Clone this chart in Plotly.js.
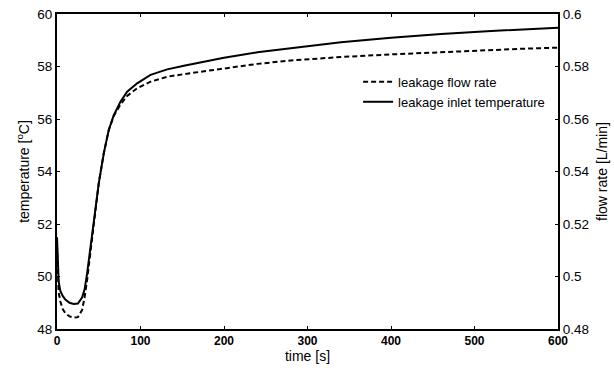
<!DOCTYPE html>
<html>
<head>
<meta charset="utf-8">
<script src="https://cdn.plot.ly/plotly-3.0.1.min.js"></script>
<style>html,body{margin:0;padding:0;background:#fff;}#chart{width:614px;height:371px;}</style>
</head>
<body>
<div id="chart"></div>
<script>
const timeS = [0, 1, 2, 4, 7, 10, 15, 20, 25, 30, 33, 36, 40, 44, 50, 56, 62, 68, 76, 84, 96, 112, 132, 152, 172, 200, 240, 280, 340, 400, 460, 520, 560, 600];
const inletTemp = [51.5, 50.4, 49.8, 49.45, 49.25, 49.12, 49.0, 48.95, 48.97, 49.2, 49.5, 50.1, 51.1, 52.15, 53.55, 54.69, 55.58, 56.15, 56.66, 57.04, 57.36, 57.68, 57.89, 58.03, 58.16, 58.33, 58.54, 58.70, 58.92, 59.10, 59.24, 59.35, 59.42, 59.48];
const flowRate = [0.512, 0.499, 0.494, 0.4905, 0.4875, 0.486, 0.4848, 0.4843, 0.4845, 0.4872, 0.492, 0.4985, 0.5095, 0.521, 0.5355, 0.5469, 0.5558, 0.5612, 0.5655, 0.5688, 0.5717, 0.5742, 0.5761, 0.5771, 0.578, 0.5793, 0.581, 0.5823, 0.5836, 0.5846, 0.5855, 0.5863, 0.5868, 0.5872];
const xTicks = [0, 100, 200, 300, 400, 500, 600];
const yTicks = [48, 50, 52, 54, 56, 58, 60];
const y2Ticks = [0.48, 0.5, 0.52, 0.54, 0.56, 0.58, 0.6];
const y2TickText = ['0.48', '0.5', '0.52', '0.54', '0.56', '0.58', '0.6'];

const fam = 'Liberation Sans, Arial, sans-serif';

const traces = [
  {x: timeS, y: flowRate, yaxis: 'y2', type: 'scatter', mode: 'lines', name: 'leakage flow rate',
   line: {color: '#000', width: 2, dash: '5px,3px'}},
  {x: timeS, y: inletTemp, yaxis: 'y', type: 'scatter', mode: 'lines', name: 'leakage inlet temperature',
   line: {color: '#000', width: 2}}
];

const layout = {
  width: 614, height: 371,
  margin: {l: 57, r: 56, t: 14, b: 42, pad: 0},
  paper_bgcolor: '#fff', plot_bgcolor: '#fff',
  font: {family: fam, size: 13, color: '#000'},
  showlegend: true,
  legend: {x: 0.601, y: 0.832, xanchor: 'left', yanchor: 'top', bgcolor: 'rgba(0,0,0,0)', borderwidth: 0,
           font: {family: fam, size: 13, color: '#000'}, tracegroupgap: 0, itemwidth: 30},
  xaxis: {
    range: [0, 600], tickvals: xTicks, ticktext: xTicks.map(String),
    ticks: 'inside', ticklen: 3, tickwidth: 1, tickcolor: '#000',
    showline: true, linecolor: '#000', linewidth: 2, mirror: 'ticks',
    showgrid: false, zeroline: false,
    tickfont: {family: fam, size: 12, color: '#000', weight: 'bold'},
    title: {text: 'time [s]', font: {family: fam, size: 14, color: '#000'}, standoff: 2}
  },
  yaxis: {
    range: [48, 60], tickvals: yTicks, ticktext: yTicks.map(String),
    ticks: 'inside', ticklen: 3, tickwidth: 1, tickcolor: '#000',
    showline: true, linecolor: '#000', linewidth: 2, mirror: true,
    showgrid: false, zeroline: false,
    tickfont: {family: fam, size: 13.5, color: '#000'},
    title: {text: 'temperature [<sup>o</sup>C]', font: {family: fam, size: 14, color: '#000'}, standoff: 4}
  },
  yaxis2: {
    range: [0.48, 0.6], overlaying: 'y', side: 'right', tickvals: y2Ticks, ticktext: y2TickText,
    ticks: 'inside', ticklen: 3, tickwidth: 1, tickcolor: '#000',
    showline: true, linecolor: '#000', linewidth: 2,
    showgrid: false, zeroline: false,
    tickfont: {family: fam, size: 13.5, color: '#000'},
    title: {text: 'flow rate [L/min]', font: {family: fam, size: 14, color: '#000'}, standoff: 9}
  }
};

Plotly.newPlot('chart', traces, layout, {displayModeBar: false, staticPlot: true});
</script>
</body>
</html>
